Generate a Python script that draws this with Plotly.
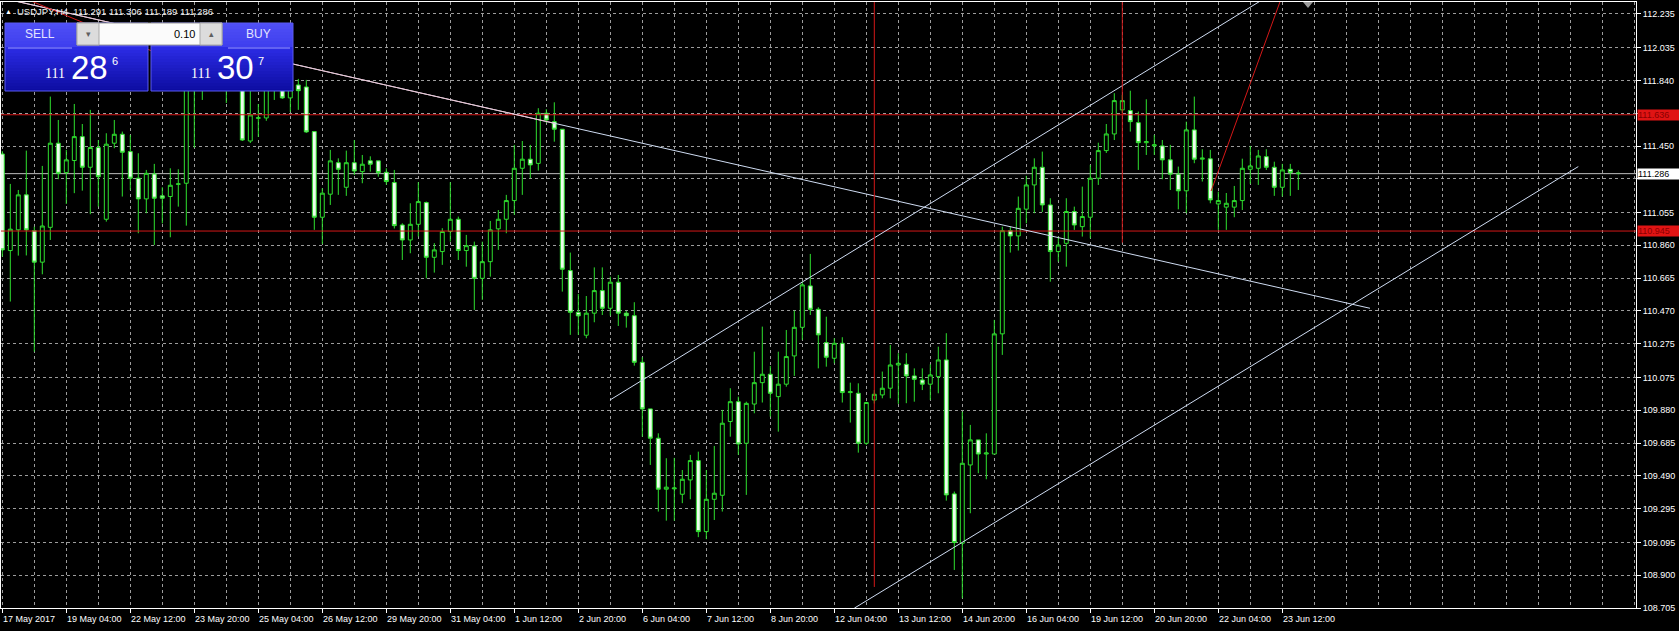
import plotly.graph_objects as go
import pandas as pd

# ---------------- data ----------------
SYMBOL = "USDJPY,H4"
FIRST_BAR = "2017-05-17 20:00"

OPEN = [111.403, 110.829, 110.952, 111.160, 110.947, 110.760, 110.967, 111.467, 111.292, 111.364,
        111.506, 111.324, 111.441, 111.015, 111.467, 111.520, 111.417, 111.259, 111.136, 111.284,
        111.154, 111.150, 111.223, 111.229, 111.820, 111.800, 111.880, 111.930, 111.860, 111.900,
        111.950, 111.480, 111.615, 111.617, 111.800, 111.840, 111.736, 111.813, 111.801, 111.536,
        111.027, 111.164, 111.351, 111.205, 111.351, 111.298, 111.362, 111.362, 111.294, 111.233,
        110.981, 110.892, 110.985, 111.114, 110.789, 110.823, 110.942, 111.015, 110.829, 110.856,
        110.664, 110.763, 110.958, 111.015, 111.126, 111.318, 111.372, 111.347, 111.645, 111.595,
        111.550, 110.710, 110.462, 110.326, 110.457, 110.591, 110.486, 110.641, 110.457, 110.442,
        110.165, 109.888, 109.714, 109.411, 109.413, 109.381, 109.466, 109.581, 109.159, 109.351,
        109.375, 109.813, 109.931, 109.684, 109.917, 110.044, 110.094, 109.961, 110.035, 110.203,
        110.373, 110.619, 110.480, 110.282, 110.189, 110.278, 109.985, 109.981, 109.684, 109.941,
        109.971, 110.011, 110.149, 110.153, 110.084, 110.060, 110.035, 110.080, 110.179, 109.383,
        109.090, 109.555, 109.704, 109.620, 109.620, 110.334, 110.947, 110.916, 111.075, 111.219,
        111.324, 111.100, 110.823, 110.872, 111.061, 110.971, 111.027, 111.259, 111.423, 111.522,
        111.665, 111.661, 111.589, 111.470, 111.451, 111.451, 111.368, 111.283, 111.184, 111.546,
        111.372, 111.374, 111.106, 111.087, 111.087, 111.126, 111.312, 111.318, 111.387, 111.324,
        111.205, 111.312, 111.291]
HIGH = [111.420, 111.225, 111.189, 111.423, 110.971, 111.332, 111.744, 111.605, 111.427, 111.700,
        111.581, 111.665, 111.486, 111.526, 111.605, 111.536, 111.516, 111.407, 111.308, 111.344,
        111.205, 111.318, 111.312, 111.880, 111.950, 111.980, 112.020, 111.990, 111.970, 112.050,
        112.000, 111.780, 111.700, 111.860, 111.920, 111.880, 111.850, 111.849, 111.843, 111.536,
        111.199, 111.427, 111.377, 111.423, 111.486, 111.397, 111.389, 111.362, 111.318, 111.308,
        110.991, 111.110, 111.235, 111.120, 110.873, 110.962, 111.235, 111.031, 110.922, 110.882,
        110.882, 111.005, 111.070, 111.160, 111.457, 111.480, 111.457, 111.675, 111.669, 111.710,
        111.550, 110.817, 110.571, 110.559, 110.729, 110.729, 110.674, 110.684, 110.470, 110.522,
        110.195, 109.888, 109.743, 109.595, 109.597, 109.525, 109.615, 109.634, 109.525, 109.668,
        109.882, 110.011, 109.961, 109.931, 110.228, 110.377, 110.143, 110.228, 110.357, 110.472,
        110.645, 110.809, 110.492, 110.436, 110.308, 110.314, 110.044, 110.040, 109.930, 110.000,
        110.110, 110.268, 110.219, 110.219, 110.129, 110.129, 110.153, 110.258, 110.338, 109.397,
        109.872, 109.793, 109.704, 109.743, 110.417, 110.971, 110.971, 111.150, 111.273, 111.377,
        111.417, 111.140, 110.912, 111.140, 111.090, 111.209, 111.338, 111.470, 111.581, 111.764,
        111.754, 111.779, 111.655, 111.728, 111.516, 111.486, 111.457, 111.328, 111.595, 111.744,
        111.431, 111.427, 111.179, 111.171, 111.213, 111.375, 111.451, 111.427, 111.431, 111.357,
        111.344, 111.344, 111.306]
LOW = [110.793, 110.526, 110.799, 110.800, 110.228, 110.688, 110.892, 111.253, 111.106, 111.170,
       111.185, 111.045, 111.090, 111.001, 111.437, 111.150, 111.189, 110.932, 111.051, 110.862,
       110.991, 110.908, 111.090, 110.977, 111.440, 111.724, 111.780, 111.780, 111.706, 111.800,
       111.480, 111.468, 111.504, 111.600, 111.724, 111.730, 111.653, 111.665, 111.528, 110.952,
       110.868, 111.100, 111.160, 111.154, 111.278, 111.229, 111.298, 111.268, 111.220, 110.960,
       110.773, 110.813, 110.912, 110.664, 110.698, 110.744, 110.882, 110.773, 110.733, 110.476,
       110.536, 110.674, 110.833, 110.932, 111.041, 111.160, 111.259, 111.304, 111.589, 111.476,
       110.585, 110.328, 110.328, 110.308, 110.403, 110.446, 110.442, 110.381, 110.371, 110.145,
       109.723, 109.555, 109.278, 109.224, 109.224, 109.328, 109.351, 109.126, 109.114, 109.228,
       109.278, 109.723, 109.615, 109.377, 109.862, 109.926, 109.842, 109.753, 110.020, 110.084,
       110.298, 110.446, 110.129, 110.139, 110.159, 109.926, 109.807, 109.628, 109.674, 109.920,
       109.951, 109.951, 109.918, 109.922, 109.931, 110.000, 109.941, 109.981, 109.343, 108.931,
       108.763, 109.268, 109.506, 109.470, 109.620, 110.209, 110.817, 110.829, 110.991, 111.051,
       111.058, 110.644, 110.763, 110.733, 110.952, 110.912, 110.902, 111.219, 111.409, 111.486,
       111.647, 111.536, 111.308, 111.397, 111.397, 111.253, 111.189, 111.074, 111.051, 111.348,
       111.239, 111.110, 110.952, 110.952, 111.027, 111.070, 111.225, 111.219, 111.308, 111.154,
       111.150, 111.154, 111.189]
CLOSE = [110.833, 110.956, 111.160, 110.952, 110.760, 110.975, 111.467, 111.288, 111.368, 111.506,
         111.324, 111.441, 111.268, 111.461, 111.520, 111.413, 111.259, 111.136, 111.288, 111.140,
         111.140, 111.217, 111.225, 111.820, 111.800, 111.880, 111.930, 111.860, 111.900, 111.950,
         111.486, 111.635, 111.618, 111.800, 111.840, 111.736, 111.800, 111.779, 111.534, 111.027,
         111.170, 111.362, 111.312, 111.351, 111.302, 111.342, 111.342, 111.292, 111.239, 110.977,
         110.892, 110.985, 111.120, 110.789, 110.833, 110.942, 111.015, 110.829, 110.858, 110.664,
         110.763, 110.952, 111.015, 111.126, 111.318, 111.372, 111.338, 111.645, 111.605, 111.550,
         110.718, 110.462, 110.441, 110.457, 110.591, 110.486, 110.641, 110.457, 110.442, 110.165,
         109.888, 109.714, 109.411, 109.423, 109.418, 109.470, 109.581, 109.159, 109.351, 109.387,
         109.803, 109.931, 109.680, 109.921, 110.044, 110.094, 109.981, 110.035, 110.199, 110.373,
         110.625, 110.480, 110.328, 110.195, 110.278, 109.985, 109.990, 109.684, 109.926, 109.975,
         110.011, 110.149, 110.159, 110.084, 110.064, 110.035, 110.090, 110.179, 109.377, 109.094,
         109.565, 109.704, 109.620, 109.626, 110.334, 110.947, 110.916, 111.080, 111.219, 111.324,
         111.100, 110.823, 110.862, 111.061, 110.981, 111.031, 111.259, 111.423, 111.522, 111.720,
         111.720, 111.595, 111.470, 111.476, 111.457, 111.368, 111.283, 111.184, 111.546, 111.372,
         111.378, 111.130, 111.126, 111.110, 111.126, 111.318, 111.332, 111.391, 111.324, 111.205,
         111.308, 111.292, 111.286]

X_TICK_TIMES = ["2017-05-17 20:00", "2017-05-19 04:00", "2017-05-22 12:00", "2017-05-23 20:00",
                "2017-05-25 04:00", "2017-05-26 12:00", "2017-05-29 20:00", "2017-05-31 04:00",
                "2017-06-01 12:00", "2017-06-02 20:00", "2017-06-06 04:00", "2017-06-07 12:00",
                "2017-06-08 20:00", "2017-06-12 04:00", "2017-06-13 12:00", "2017-06-14 20:00",
                "2017-06-16 04:00", "2017-06-19 12:00", "2017-06-20 20:00", "2017-06-22 04:00",
                "2017-06-23 12:00"]
X_TICK_LABELS = ["17 May 2017", "19 May 04:00", "22 May 12:00", "23 May 20:00", "25 May 04:00",
                 "26 May 12:00", "29 May 20:00", "31 May 04:00", "1 Jun 12:00", "2 Jun 20:00",
                 "6 Jun 04:00", "7 Jun 12:00", "8 Jun 20:00", "12 Jun 04:00", "13 Jun 12:00",
                 "14 Jun 20:00", "16 Jun 04:00", "19 Jun 12:00", "20 Jun 20:00", "22 Jun 04:00",
                 "23 Jun 12:00"]
Y_TICK_LABELS = ["112.235", "112.035", "111.840", "111.645", "111.450", "111.255", "111.055",
                 "110.860", "110.665", "110.470", "110.275", "110.075", "109.880", "109.685",
                 "109.490", "109.295", "109.095", "108.900", "108.705"]

RED_LEVELS = [111.636, 110.945]
# drawn objects: (bar index, price) anchors
TREND_DESC = [(-1.0, 112.340), (170.96, 110.486)]
TREND_DESC_PINK_UNTIL = 69.0          # bar where the pink overlap of the falling line ends
TREND_RED_TL = [(3.7, 112.310), (22.0, 111.950)]
CHANNEL_UP = [(75.96, 109.941), (160.0, 112.392)]
CHANNEL_LOW = [(106.5, 108.704), (197.0, 111.328)]
RED_RAY = [(151.1, 111.183), (160.5, 112.410)]
RED_VERTICALS = [(109, 108.830), (140, 110.876)]
SELL_QUOTE = ("111", "28", "6")
BUY_QUOTE = ("111", "30", "7")
LOT = "0.10"

# ---------------- geometry / style ----------------
W, H = 1679, 631
PX0, PX1, PY0, PY1 = 1, 1636, 2, 608      # plot area in pixels
BAR0, BARW = 2.3, 8.0                      # pixel centre of bar 0, bar spacing
Y_BOTTOM = 108.705
Y_TOP = 112.306

GREEN = "#2fe02f"
BEAR_FILL = "#eefdee"
GRID = "#9c9c9c"
RED = "#d41818"
LIGHT = "#cfdcf2"
PINK = "#eec4d2"
FONT = "Liberation Sans"

n = len(OPEN)
times = []
t = pd.Timestamp(FIRST_BAR)
while len(times) < n:
    if t.weekday() < 5:
        times.append(t)
    t += pd.Timedelta(hours=4)
idx = list(range(n))
tick_pos = [times.index(pd.Timestamp(s)) for s in X_TICK_TIMES]
y_ticks = [float(s) for s in Y_TICK_LABELS]
label_levels = RED_LEVELS + [CLOSE[-1]]
# labels that sit under a price box are covered in the reference
y_text = [s if min(abs(float(s) - lv) for lv in label_levels) > 0.04 else "" for s in Y_TICK_LABELS]


def fx(px):
    return (px - PX0) / (PX1 - PX0)


def fy(py):
    return (PY1 - py) / (PY1 - PY0)


fig = go.Figure()
fig.add_trace(go.Candlestick(
    x=idx, open=OPEN, high=HIGH, low=LOW, close=CLOSE,
    increasing=dict(line=dict(color=GREEN, width=1), fillcolor="#000000"),
    decreasing=dict(line=dict(color=GREEN, width=1), fillcolor=BEAR_FILL),
    whiskerwidth=0, hoverinfo="skip", showlegend=False))

shapes = []
# bid line
shapes.append(dict(type="line", xref="paper", yref="y", x0=0, x1=1, y0=CLOSE[-1], y1=CLOSE[-1],
                   line=dict(color="#bdbdbd", width=1), layer="between"))
for lv in RED_LEVELS:
    shapes.append(dict(type="line", xref="paper", yref="y", x0=0, x1=1, y0=lv, y1=lv,
                       line=dict(color=RED, width=1), layer="above"))


def seg(pts, color):
    (x0, y0), (x1, y1) = pts
    return dict(type="line", xref="x", yref="y", x0=x0, y0=y0, x1=x1, y1=y1,
                line=dict(color=color, width=1), layer="above")


shapes.append(seg(TREND_DESC, LIGHT))
(dx0, dy0), (dx1, dy1) = TREND_DESC
pink_y = dy0 + (dy1 - dy0) * (TREND_DESC_PINK_UNTIL - dx0) / (dx1 - dx0)
shapes.append(seg([(dx0, dy0), (TREND_DESC_PINK_UNTIL, pink_y)], PINK))
shapes.append(seg(TREND_RED_TL, RED))
shapes.append(seg(CHANNEL_UP, LIGHT))
shapes.append(seg(CHANNEL_LOW, LIGHT))
shapes.append(seg(RED_RAY, RED))
for bx, by in RED_VERTICALS:
    shapes.append(seg([(bx, by), (bx, Y_TOP + 0.2)], RED))

# chart-shift marker
shapes.append(dict(type="path", xref="paper", yref="paper",
                   path=f"M {fx(1303)},{fy(2)} L {fx(1313)},{fy(2)} L {fx(1308)},{fy(8)} Z",
                   fillcolor="#9a9a9a", line=dict(width=0), layer="above"))


# ---- one-click trading panel ----
def lerp(a, b, t):
    return tuple(int(round(a[k] + (b[k] - a[k]) * t)) for k in range(3))


def band_color(py):
    if py < 47:
        c = lerp((80, 80, 246), (62, 62, 238), (py - 23) / 24)
    else:
        c = lerp((44, 44, 230), (12, 12, 160), (py - 47) / 44)
    return "rgb(%d,%d,%d)" % c


for (bx0, bx1) in [(5, 148), (151, 293)]:
    py = 23
    while py < 91:
        py2 = min(py + 3, 91)
        shapes.append(dict(type="rect", xref="paper", yref="paper", x0=fx(bx0), x1=fx(bx1),
                           y0=fy(py2), y1=fy(py), fillcolor=band_color(py + 1.5),
                           line=dict(width=0), layer="above"))
        py = py2
    shapes.append(dict(type="rect", xref="paper", yref="paper", x0=fx(bx0), x1=fx(bx1),
                       y0=fy(91), y1=fy(23), fillcolor="rgba(0,0,0,0)",
                       line=dict(color="#5a5af0", width=1), layer="above"))
for (sx0, sx1) in [(8, 72), (228, 290)]:
    shapes.append(dict(type="line", xref="paper", yref="paper", x0=fx(sx0), x1=fx(sx1),
                       y0=fy(48), y1=fy(48), line=dict(color="#9a9aff", width=1), layer="above"))
# lot spinner
shapes.append(dict(type="rect", xref="paper", yref="paper", x0=fx(77), x1=fx(222), y0=fy(45), y1=fy(23),
                   fillcolor="#fbfbfb", line=dict(color="#9a9a9a", width=1), layer="above"))
for (sx0, sx1) in [(77, 99), (200, 222)]:
    shapes.append(dict(type="rect", xref="paper", yref="paper", x0=fx(sx0), x1=fx(sx1), y0=fy(45), y1=fy(23),
                       fillcolor="#dcdcdc", line=dict(color="#a8a8a8", width=1), layer="above"))

ann = []


def text(px, py, s, size, color="#ffffff", family=FONT, xanchor="center"):
    ann.append(dict(x=fx(px), y=fy(py), xref="paper", yref="paper", text=s, showarrow=False,
                    xanchor=xanchor, yanchor="middle", font=dict(family=family, size=size, color=color)))


text(88, 34, "▾", 9, "#606060")
text(211, 34, "▴", 9, "#606060")
text(197, 34, LOT, 11, "#000000", xanchor="right")
text(40, 34, "SELL", 12, "#e4e4ff")
text(258, 34, "BUY", 12, "#e4e4ff")
for (q, cx) in [(SELL_QUOTE, 0), (BUY_QUOTE, 145.5)]:
    text(55 + cx, 73, q[0], 14, "#ffffff", family="Liberation Serif")
    text(89.5 + cx, 67, q[1], 33, "#ffffff")
    text(115 + cx, 61, q[2], 11, "#ffffff")

# header
text(8, 12, "▲", 7, "#ffffff")
hdr = "%s  %.3f %.3f %.3f %.3f" % (SYMBOL, OPEN[-1], HIGH[-1], LOW[-1], CLOSE[-1])
text(15, 12, hdr, 9.5, "#f0f0f0", xanchor="left")

# time-axis labels, left-aligned at their tick
for p, lab in zip(tick_pos, X_TICK_LABELS):
    ann.append(dict(x=p, xref="x", y=0, yref="paper", text=lab, showarrow=False,
                    xanchor="left", yanchor="top", yshift=-4, xshift=-1,
                    font=dict(family=FONT, size=9, color="#ffffff")))

# price-axis boxes
for lv, bg, fg in [(RED_LEVELS[0], "#e01414", "#8a0000"), (RED_LEVELS[1], "#e01414", "#8a0000"),
                   (CLOSE[-1], "#ffffff", "#000000")]:
    ann.append(dict(x=1, xref="paper", y=lv, yref="y", text="%.3f" % lv, showarrow=False,
                    xanchor="left", yanchor="middle", xshift=1, bgcolor=bg, borderpad=0,
                    width=42, height=10, align="left",
                    font=dict(family=FONT, size=9, color=fg)))

fig.update_layout(
    width=W, height=H,
    margin=dict(l=PX0, r=W - PX1, t=PY0, b=H - PY1, pad=0),
    paper_bgcolor="#000000", plot_bgcolor="#000000",
    showlegend=False, shapes=shapes, annotations=ann,
    xaxis=dict(range=[(PX0 - BAR0) / BARW, (PX1 - BAR0) / BARW], rangeslider=dict(visible=False),
               tickmode="array", tickvals=tick_pos, showticklabels=False,
               ticks="outside", ticklen=4, tickcolor="#ffffff", tickwidth=1,
               showgrid=True, gridcolor=GRID, griddash="3px,3px", gridwidth=1,
               minor=dict(tickmode="linear", tick0=0, dtick=4, showgrid=True, gridcolor=GRID,
                          griddash="3px,3px", gridwidth=1, ticks=""),
               showline=True, linecolor="#ffffff", linewidth=1, mirror=True, zeroline=False,
               fixedrange=True),
    yaxis=dict(range=[Y_BOTTOM, Y_TOP], side="right", tickmode="array", tickvals=y_ticks,
               ticktext=y_text, ticks="outside", ticklen=4, tickcolor="#ffffff",
               tickfont=dict(family=FONT, size=9, color="#ffffff"),
               showgrid=True, gridcolor=GRID, griddash="3px,3px", gridwidth=1,
               showline=True, linecolor="#ffffff", linewidth=1, mirror=True, zeroline=False,
               fixedrange=True),
)

fig.write_html("out.html", config={"displayModeBar": False},
               post_script="document.body.style.margin='0';document.body.style.overflow='hidden';")
